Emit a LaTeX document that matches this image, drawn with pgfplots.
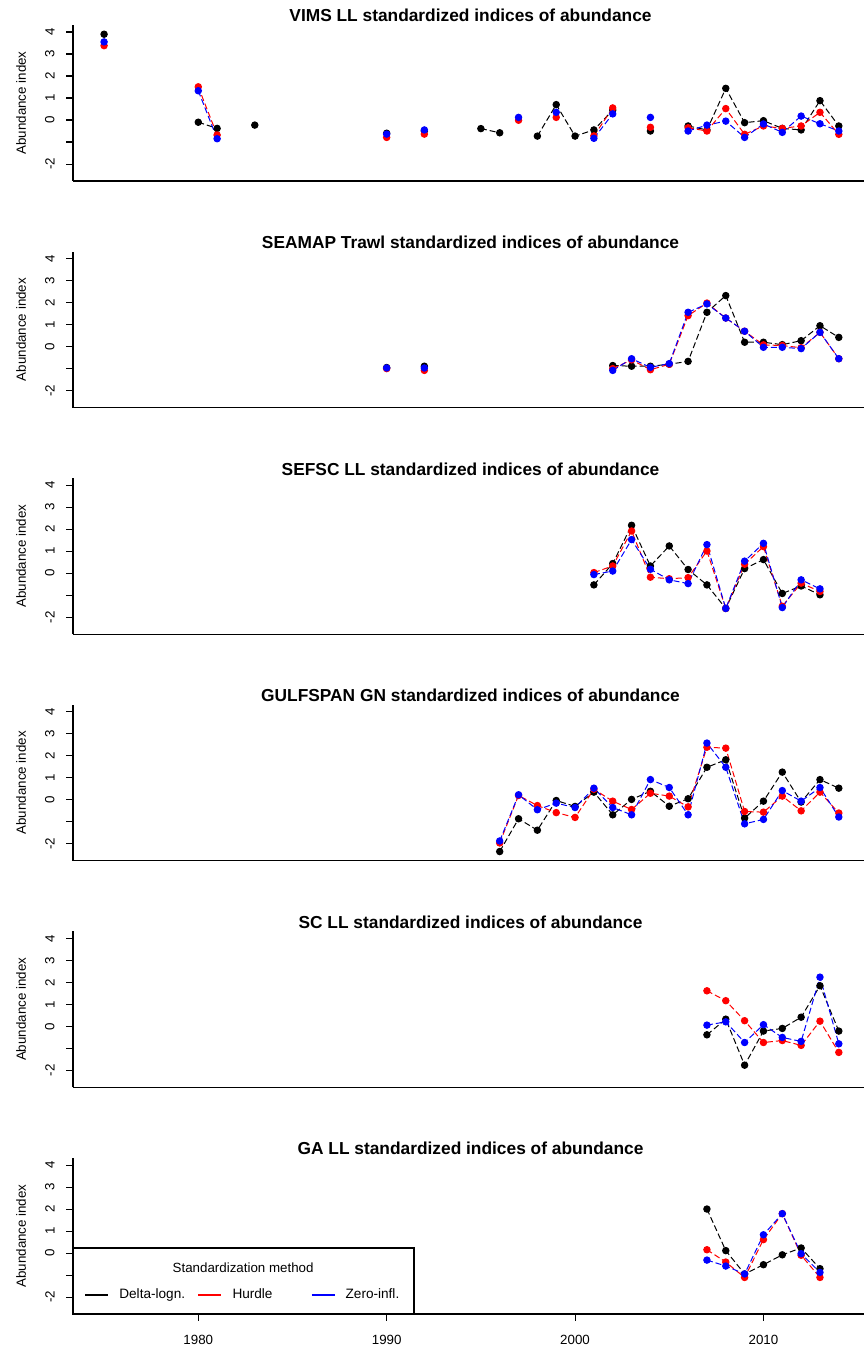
\documentclass[border=0pt]{standalone}
\usepackage{fontspec}
\setmainfont{Liberation Sans}
\usepackage{pgfplots}
\usepackage{pgfplotstable}
\pgfplotsset{compat=1.18}

% columns: year, Delta-lognormal, Hurdle, Zero-inflated (nan = no value)
\pgfplotstableread{
year dl hu zi
1975 3.90 3.38 3.55
1979 nan nan nan
1980 -0.10 1.51 1.33
1981 -0.38 -0.68 -0.85
1982 nan nan nan
1983 -0.23 nan nan
1984 nan nan nan
1990 -0.60 -0.79 -0.64
1991 nan nan nan
1992 -0.50 -0.64 -0.45
1993 nan nan nan
1995 -0.39 nan nan
1996 -0.58 nan nan
1997 nan -0.01 0.12
1998 -0.73 nan nan
1999 0.70 0.12 0.35
2000 -0.73 nan nan
2001 -0.45 -0.72 -0.83
2002 0.45 0.55 0.28
2003 nan nan nan
2004 -0.50 -0.33 0.12
2005 nan nan nan
2006 -0.27 -0.35 -0.50
2007 -0.45 -0.50 -0.23
2008 1.44 0.52 -0.05
2009 -0.12 -0.65 -0.79
2010 -0.03 -0.27 -0.18
2011 -0.38 -0.38 -0.56
2012 -0.45 -0.27 0.18
2013 0.88 0.35 -0.17
2014 -0.27 -0.65 -0.50
}\vims

\pgfplotstableread{
year dl hu zi
1990 -0.95 -1.00 -0.97
1991 nan nan nan
1992 -0.89 -1.08 -0.97
1993 nan nan nan
2002 -0.86 -1.00 -1.08
2003 -0.89 -0.60 -0.55
2004 -0.89 -1.05 -0.94
2005 -0.80 -0.80 -0.77
2006 -0.67 1.41 1.56
2007 1.56 1.98 1.94
2008 2.32 1.30 1.30
2009 0.20 0.70 0.70
2010 0.20 0.08 -0.03
2011 0.09 0.05 -0.03
2012 0.27 -0.05 -0.09
2013 0.95 0.65 0.65
2014 0.42 -0.55 -0.55
}\seamap

\pgfplotstableread{
year dl hu zi
2001 -0.53 0.03 -0.06
2002 0.44 0.33 0.10
2003 2.18 1.92 1.53
2004 0.33 -0.18 0.18
2005 1.24 -0.25 -0.30
2006 0.17 -0.20 -0.47
2007 -0.53 1.01 1.30
2008 -1.60 -1.60 -1.60
2009 0.21 0.41 0.55
2010 0.62 1.21 1.36
2011 -0.92 -1.50 -1.56
2012 -0.58 -0.45 -0.30
2013 -0.98 -0.83 -0.71
}\sefsc

\pgfplotstableread{
year dl hu zi
1996 -2.35 -1.96 -1.87
1997 -0.86 0.20 0.23
1998 -1.38 -0.26 -0.45
1999 -0.03 -0.58 -0.15
2000 -0.30 -0.80 -0.35
2001 0.35 0.48 0.53
2002 -0.68 -0.06 -0.35
2003 0.02 -0.44 -0.68
2004 0.39 0.30 0.92
2005 -0.29 0.17 0.56
2006 0.05 -0.32 -0.68
2007 1.48 2.39 2.58
2008 1.82 2.35 1.48
2009 -0.83 -0.53 -1.09
2010 -0.06 -0.56 -0.89
2011 1.26 0.17 0.42
2012 -0.10 -0.50 -0.06
2013 0.92 0.35 0.56
2014 0.53 -0.60 -0.78
}\gulfspan

\pgfplotstableread{
year dl hu zi
2007 -0.38 1.62 0.06
2008 0.33 1.17 0.21
2009 -1.76 0.26 -0.73
2010 -0.21 -0.73 0.08
2011 -0.09 -0.64 -0.50
2012 0.42 -0.86 -0.68
2013 1.85 0.24 2.24
2014 -0.21 -1.18 -0.79
}\scll

\pgfplotstableread{
year dl hu zi
2007 2.00 0.15 -0.32
2008 0.11 -0.41 -0.59
2009 -0.95 -1.11 -0.95
2010 -0.53 0.61 0.83
2011 -0.08 1.79 1.79
2012 0.23 -0.10 -0.03
2013 -0.71 -1.11 -0.88
}\gall

\definecolor{rred}{RGB}{255,0,0}
\definecolor{rblue}{RGB}{0,0,255}

\pgfplotsset{
  panel/.style={
    scale only axis, width=596.25pt, height=117pt,
    xmin=1973.35, xmax=2015.55, ymin=-2.77, ymax=4.32,
    anchor=south west,
    axis x line*=bottom, axis y line*=left,
    axis line style={line width=0.8pt, -},
    tick align=outside, major tick length=5.25pt,
    tick style={black, line width=0.8pt},
    ytick={-2,-1,0,1,2,3,4}, yticklabels={-2,,0,1,2,3,4},
    yticklabel style={rotate=90, anchor=south, font=\fontsize{10}{12}\selectfont},
    yticklabel shift=5pt,
    xtick=\empty,
    every axis y label/.style={at={(axis description cs:-0.0654,0.5)}, rotate=90, anchor=center, font=\fontsize{10}{12}\selectfont},
    ylabel={Abundance index},
    every axis title/.style={at={(axis description cs:0.5,1.0192)}, anchor=base, font=\fontsize{13}{15}\selectfont\bfseries},
    unbounded coords=jump, clip=false,
  },
  sdl/.style={black, line width=0.75pt, dash pattern=on 4.5pt off 2.25pt, mark=*, mark size=2.4pt, mark options={solid, fill=black, draw=black}},
  shu/.style={rred, line width=0.75pt, dash pattern=on 4.5pt off 2.25pt, mark=*, mark size=2.4pt, mark options={solid, fill=rred, draw=rred}},
  szi/.style={rblue, line width=0.75pt, dash pattern=on 4.5pt off 2.25pt, mark=*, mark size=2.4pt, mark options={solid, fill=rblue, draw=rblue}},
}

\begin{document}
\begin{tikzpicture}
\path[use as bounding box] (0,0) rectangle (647.25pt,1013.25pt);

\begin{axis}[panel, at={(54.75pt,877.5pt)}, title={VIMS LL standardized indices of abundance}]
\addplot[sdl] table[x=year,y=dl] {\vims};
\addplot[shu] table[x=year,y=hu] {\vims};
\addplot[szi] table[x=year,y=zi] {\vims};
\end{axis}

\begin{axis}[panel, at={(54.75pt,707.55pt)}, title={SEAMAP Trawl standardized indices of abundance}]
\addplot[sdl] table[x=year,y=dl] {\seamap};
\addplot[shu] table[x=year,y=hu] {\seamap};
\addplot[szi] table[x=year,y=zi] {\seamap};
\end{axis}

\begin{axis}[panel, at={(54.75pt,537.6pt)}, title={SEFSC LL standardized indices of abundance}]
\addplot[sdl] table[x=year,y=dl] {\sefsc};
\addplot[shu] table[x=year,y=hu] {\sefsc};
\addplot[szi] table[x=year,y=zi] {\sefsc};
\end{axis}

\begin{axis}[panel, at={(54.75pt,367.65pt)}, title={GULFSPAN GN standardized indices of abundance}]
\addplot[sdl] table[x=year,y=dl] {\gulfspan};
\addplot[shu] table[x=year,y=hu] {\gulfspan};
\addplot[szi] table[x=year,y=zi] {\gulfspan};
\end{axis}

\begin{axis}[panel, at={(54.75pt,197.7pt)}, title={SC LL standardized indices of abundance}]
\addplot[sdl] table[x=year,y=dl] {\scll};
\addplot[shu] table[x=year,y=hu] {\scll};
\addplot[szi] table[x=year,y=zi] {\scll};
\end{axis}

\begin{axis}[panel, at={(54.75pt,27.75pt)}, title={GA LL standardized indices of abundance},
  xtick={1980,1990,2000,2010}, xticklabels={1980,1990,2000,2010},
  xticklabel style={font=\fontsize{10}{12}\selectfont},
  xticklabel shift=7pt,
  legend columns=3,
  legend style={at={(rel axis cs:0.0138,0.122)}, anchor=west, draw=none, fill=none,
    inner sep=0pt, nodes={inner sep=0pt}, font=\fontsize{10.2}{12}\selectfont,
    /tikz/every odd column/.append style={column sep=7.5pt},
    /tikz/every even column/.append style={column sep=0pt}},
  legend image code/.code={\draw[#1, line width=1.6pt] (0pt,0pt) -- (17.25pt,0pt);}]
\addplot[sdl, forget plot] table[x=year,y=dl] {\gall};
\addplot[shu, forget plot] table[x=year,y=hu] {\gall};
\addplot[szi, forget plot] table[x=year,y=zi] {\gall};
\addlegendimage{black, solid}
\addlegendentry{\makebox[58.5pt][l]{Delta-logn.}}
\addlegendimage{rred, solid}
\addlegendentry{\makebox[58.5pt][l]{Hurdle}}
\addlegendimage{rblue, solid}
\addlegendentry{\makebox[58.5pt][l]{Zero-infl.}}
\draw[line width=0.8pt] (rel axis cs:0,0) rectangle (rel axis cs:0.4289,0.423);
\node[font=\fontsize{10}{12}\selectfont] at (rel axis cs:0.214,0.295) {Standardization method};
\end{axis}
\end{tikzpicture}
\end{document}
